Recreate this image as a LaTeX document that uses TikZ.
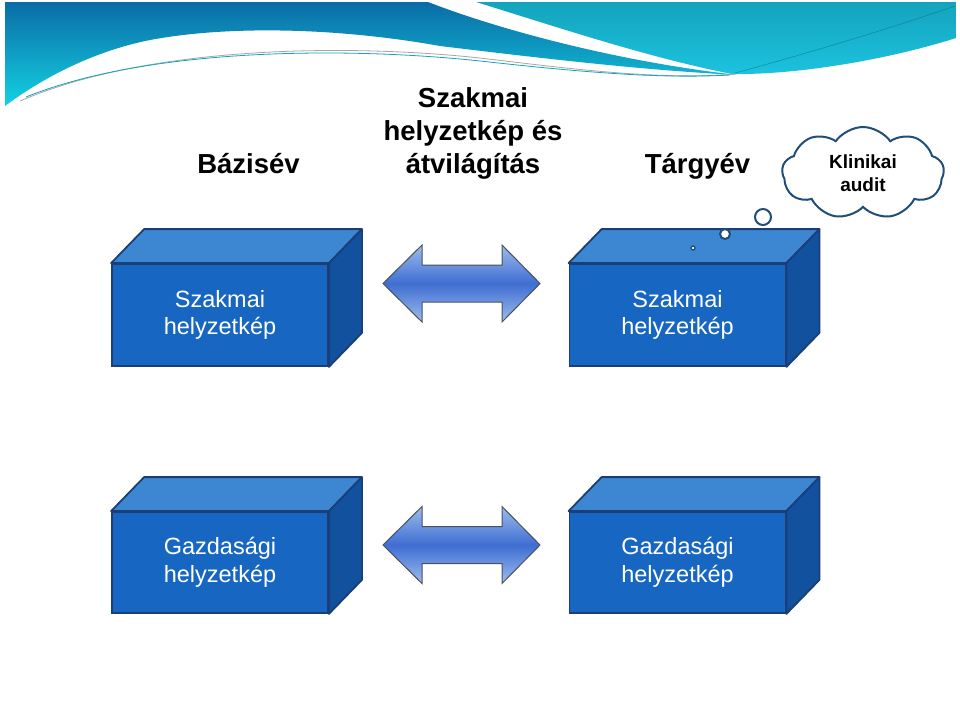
\documentclass[tikz,border=0pt]{standalone}
\usepackage{fontspec}
\setmainfont{Liberation Sans}
\usetikzlibrary{shapes.symbols,calc}
\definecolor{boxfront}{HTML}{1767C2}
\definecolor{boxtop}{HTML}{3D87D2}
\definecolor{boxside}{HTML}{11519D}
\definecolor{boxline}{HTML}{1A3F78}
\definecolor{cloudline}{HTML}{1F4E79}
\definecolor{arrlight}{HTML}{9CBCEC}
\definecolor{arrdark}{HTML}{3F6ED2}
\definecolor{arrline}{HTML}{4A5060}
\definecolor{bandA}{HTML}{0A6CA6}
\definecolor{bandB}{HTML}{14D2E2}
\definecolor{bandC}{HTML}{14A3BD}
\definecolor{bandD}{HTML}{0B97D8}
\definecolor{bandE}{HTML}{1CC3DF}
\tikzset{
  frontbox/.style={draw=boxline, line width=1.8pt, fill=boxfront, text=white,
    minimum width=216pt, minimum height=102pt, inner sep=0pt, align=center,
    font=\fontsize{23.5pt}{27.5pt}\selectfont},
  topface/.style={fill=boxtop, draw=boxline, line width=1.8pt, line join=round},
  sideface/.style={fill=boxside, draw=boxline, line width=1.8pt, line join=round},
  headtext/.style={font=\fontsize{27.5pt}{33pt}\selectfont\bfseries, text=black, inner sep=0pt},
  bubble/.style={circle, draw=cloudline, fill=white, inner sep=0pt},
  dblarrow/.style={top color=arrlight, bottom color=arrlight, middle color=arrdark,
    draw=arrline, line width=1pt, line join=miter}
}
\newcommand{\mkcuboid}[1]{%
  \path[topface] (#1.north west) -- ($(#1.north west)+(33,-34)$) -- ($(#1.north east)+(33,-34)$) -- (#1.north east) -- cycle;
  \path[sideface] (#1.north east) -- ($(#1.north east)+(33,-34)$) -- ($(#1.south east)+(33,-34)$) -- (#1.south east) -- cycle;
}
\newcommand{\mkdblarrow}[1]{%
  \path[dblarrow] ($(#1)+(-78.5,0)$) -- ($(#1)+(-39.5,-38.5)$) -- ($(#1)+(-39.5,-18.5)$)
   -- ($(#1)+(40.5,-18.5)$) -- ($(#1)+(40.5,-38.5)$) -- ($(#1)+(78.5,0)$)
   -- ($(#1)+(40.5,38.5)$) -- ($(#1)+(40.5,18.5)$) -- ($(#1)+(-39.5,18.5)$)
   -- ($(#1)+(-39.5,38.5)$) -- cycle;
}
\begin{document}
\begin{tikzpicture}[x=1pt,y=-1pt]
\useasboundingbox (0,0) rectangle (960,716);
\fill[white] (0,0) rectangle (960,716);

% banner
\path[top color=bandA, bottom color=bandB]
  (5,2) -- (428,2) .. controls (500,30) and (620,62) .. (738,75)
  .. controls (640,70) and (540,58) .. (440,46)
  .. controls (340,28) and (230,25) .. (150,40)
  .. controls (90,52) and (40,80) .. (5,106) -- cycle;
\path[top color=bandC, middle color=bandD, bottom color=bandE]
  (476,2) -- (956,2) -- (956,38) .. controls (880,62) and (790,75) .. (732,74)
  .. controls (650,58) and (560,28) .. (476,2) -- cycle;
\draw[bandC!70!black, line width=0.6pt, opacity=0.6] (735,73) .. controls (820,50) and (900,25) .. (955,6);
\draw[gray!70, line width=0.8pt] (20,101) .. controls (150,45) and (350,44) .. (480,58) .. controls (580,70) and (660,80) .. (735,74);
\draw[bandC, line width=0.8pt] (26,97) .. controls (150,47) and (350,47) .. (480,61) .. controls (580,72) and (660,79) .. (730,75);

% headings
\node[headtext, anchor=base] (bazis) at (248.5,173) {Bázisév};
\node[headtext, align=center] (title) at (473,133) {Szakmai\\helyzetkép és\\átvilágítás};
\node[headtext, anchor=base] (targy) at (697.5,173) {Tárgyév};

% cloud
\node[cloud, cloud puffs=9, cloud puff arc=110, cloud ignores aspect, minimum width=162pt, minimum height=92pt,
  draw=cloudline, line width=2pt, fill=white, align=center, inner sep=0pt,
  font=\fontsize{19pt}{23pt}\selectfont\bfseries] (cloud) at (863,173) {Klinikai\\audit};

% boxes
\node[frontbox] (b1) at (220,315) {Szakmai\\helyzetkép};
\mkcuboid{b1}
\node[frontbox] (b2) at (677.5,315) {Szakmai\\helyzetkép};
\mkcuboid{b2}
\node[frontbox, minimum height=101pt] (b3) at (220,562.5) {Gazdasági\\helyzetkép};
\mkcuboid{b3}
\node[frontbox, minimum height=101pt] (b4) at (677.5,562.5) {Gazdasági\\helyzetkép};
\mkcuboid{b4}

% thought bubbles
\node[bubble, minimum size=4pt, line width=1.4pt] (c1) at (693,248) {};
\node[bubble, minimum size=10pt, line width=2pt] (c2) at (725,234) {};
\node[bubble, minimum size=16pt, line width=2pt] (c3) at (763,217) {};

% double arrows
\coordinate (a1) at (461.5,283.5);
\coordinate (a2) at (461.5,545);
\mkdblarrow{a1}
\mkdblarrow{a2}
\end{tikzpicture}
\end{document}
